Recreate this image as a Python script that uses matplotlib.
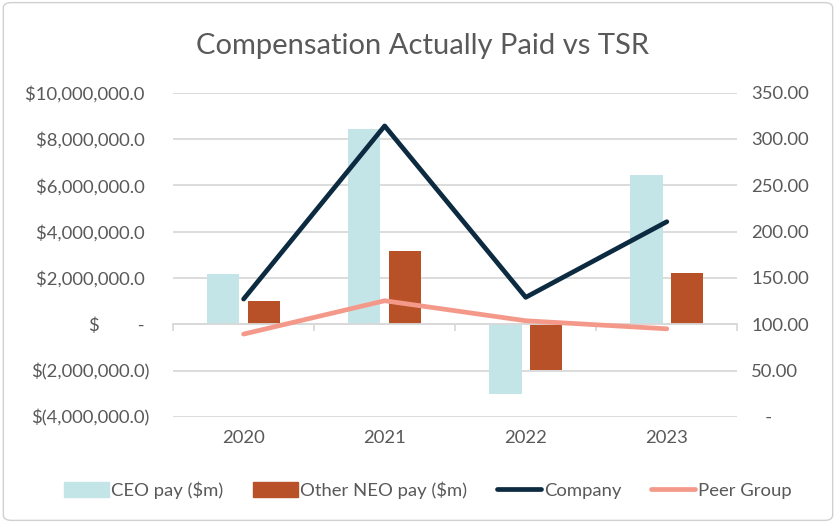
import numpy as np
import matplotlib
matplotlib.use("Agg")
import matplotlib.pyplot as plt
from matplotlib.patches import FancyBboxPatch, Patch
from matplotlib.lines import Line2D
import matplotlib.transforms as mtransforms

plt.rcParams['font.family'] = ['Lato', 'DejaVu Sans']

# data
years = ['2020', '2021', '2022', '2023']
ceo_pay = [2150000, 8410000, -3020000, 6420000]
neo_pay = [1020000, 3180000, -1990000, 2190000]
company_tsr = [127.1, 314.0, 129.0, 210.6]
peer_tsr = [89.3, 125.3, 103.7, 95.0]

left_ticks = [-4e6, -2e6, 0, 2e6, 4e6, 6e6, 8e6, 10e6]
right_ticks = [0, 50, 100, 150, 200, 250, 300, 350]

c_ceo = '#c4e5e8'
c_neo = '#b85128'
c_comp = '#0c2a40'
c_peer = '#f4998a'
c_text = '#595959'
c_grid = '#d9d9d9'


def money(v):
    if v == 0:
        return '$' + ' ' * 8 + '- '
    if v < 0:
        return '$(' + format(-v, ',.1f') + ')'
    return '$' + format(v, ',.1f') + ' '


fig = plt.figure(figsize=(8.36, 5.23), dpi=100)
fig.patches.append(FancyBboxPatch((0.004, 0.005), 0.992, 0.99, boxstyle='round,pad=0,rounding_size=0.01',
                                  transform=fig.transFigure, fc='white', ec='#d0d0d0', lw=1.0, zorder=-10))

ax = fig.add_axes([0.207, 0.203, 0.675, 0.62])
ax.set_facecolor('none')
x = np.arange(len(years))
w = 0.23
off = 0.145
ax.bar(x - off, ceo_pay, w, color=c_ceo, zorder=2)
ax.bar(x + off, neo_pay, w, color=c_neo, zorder=2)

ax.set_ylim(-4e6, 10e6)
ax.set_xlim(-0.5, len(years) - 0.5)
ax.set_yticks(left_ticks)
ax.set_yticklabels([money(v) for v in left_ticks])
ax.yaxis.grid(True, color=c_grid, lw=1.3, zorder=0)
ax.set_axisbelow(True)
for s in ax.spines.values():
    s.set_visible(False)
ax.tick_params(axis='y', length=0, labelsize=13.3, labelcolor=c_text, pad=17)

# zero axis line with category boundary ticks
ax.spines['bottom'].set_visible(True)
ax.spines['bottom'].set_position(('data', 0))
ax.spines['bottom'].set_color(c_grid)
ax.spines['bottom'].set_linewidth(1.3)
ax.set_xticks(np.arange(len(years) + 1) - 0.5)
ax.set_xticklabels([])
ax.tick_params(axis='x', length=5, color=c_grid, width=1.3, direction='out')
trans = mtransforms.blended_transform_factory(ax.transData, ax.transAxes)
for xi, yr in zip(x, years):
    ax.text(xi, -0.065, yr, transform=trans, ha='center', va='center', fontsize=13.3, color=c_text)

ax2 = ax.twinx()
ax2.plot(x, company_tsr, color=c_comp, lw=3.4, solid_capstyle='round', zorder=3)
ax2.plot(x, peer_tsr, color=c_peer, lw=3.4, solid_capstyle='round', zorder=3)
ax2.set_ylim(0, 350)
ax2.set_yticks(right_ticks)
ax2.set_yticklabels(['   -' if v == 0 else format(v, '.2f') for v in right_ticks])
for s in ax2.spines.values():
    s.set_visible(False)
ax2.tick_params(axis='y', length=0, labelsize=13.3, labelcolor=c_text, pad=10)

fig.text(0.505, 0.912, 'Compensation Actually Paid vs TSR', ha='center', va='center', fontsize=21, color=c_text)

handles = [Patch(color=c_ceo), Patch(color=c_neo),
           Line2D([], [], color=c_comp, lw=3.4, solid_capstyle='round'),
           Line2D([], [], color=c_peer, lw=3.4, solid_capstyle='round')]
labels = ['CEO pay ($m)', 'Other NEO pay ($m)', 'Company', 'Peer Group']
leg = fig.legend(handles, labels, loc='center', bbox_to_anchor=(0.512, 0.063), ncol=4, frameon=False,
                 fontsize=13.3, handlelength=2.4, handleheight=0.9, handletextpad=0.15, columnspacing=1.6)
for t in leg.get_texts():
    t.set_color(c_text)

fig.savefig('out.png', dpi=100)
